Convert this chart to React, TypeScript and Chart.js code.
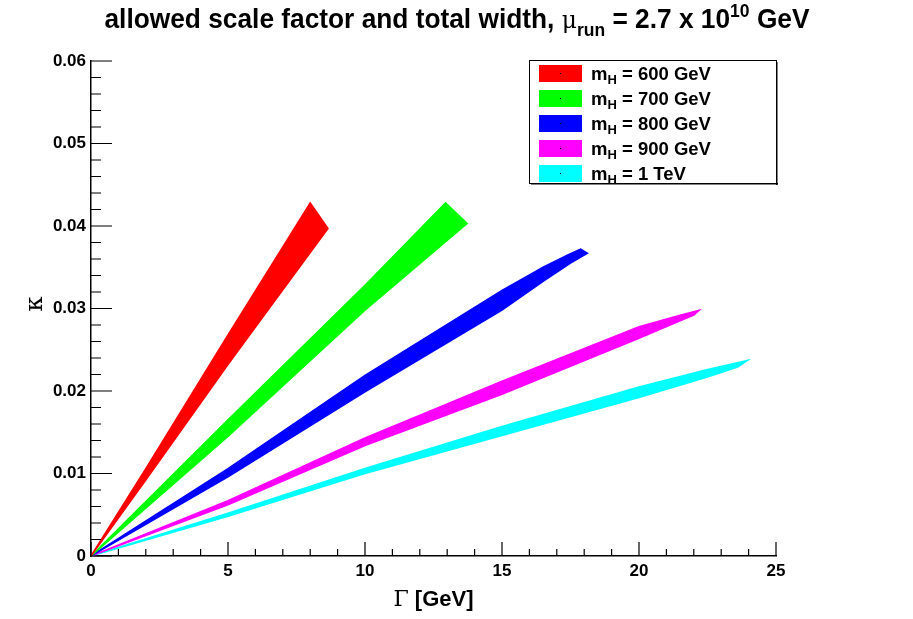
import React, { useEffect, useRef } from "react";
import { Chart, registerables } from "chart.js";

Chart.register(...registerables);

// ---- data ----
const seriesNames = ["600 GeV", "700 GeV", "800 GeV", "900 GeV", "1 TeV"];
const seriesColors = ["#ff0000", "#00ff00", "#0000ff", "#ff00ff", "#00ffff"];

// Each band outline: upper edge from origin to the tip, then lower edge back to origin.
const gamma600 = [0, 2, 5, 6.5, 8.0, 8.65, 6.5, 5, 2, 0];
const kappa600 = [0, 0.0106, 0.0268, 0.0348, 0.0428, 0.0397, 0.0300, 0.0232, 0.0092, 0];

const gamma700 = [0, 5, 10, 12.94, 13.73, 10, 5, 0];
const kappa700 = [0, 0.0165, 0.0328, 0.0428, 0.0403, 0.0298, 0.0145, 0];

const gamma800 = [0, 5, 10, 15, 16.5, 17.4, 17.87, 18.12, 17.5, 16.5, 15, 10, 5, 0];
const kappa800 = [0, 0.0106, 0.0219, 0.0322, 0.0350, 0.0365, 0.0372, 0.0367, 0.0355, 0.0333, 0.0298, 0.0199, 0.0096, 0];

const gamma900 = [0, 5, 10, 15, 20, 21.5, 22.2, 22.0, 21.5, 20, 15, 10, 5, 0];
const kappa900 = [0, 0.0067, 0.0143, 0.0212, 0.0278, 0.0292, 0.0298, 0.0292, 0.0285, 0.0264, 0.0196, 0.0134, 0.0062, 0];

const gamma1000 = [0, 5, 10, 15, 20, 22.5, 23.96, 23.6, 22.5, 20, 15, 10, 5, 0];
const kappa1000 = [0, 0.0052, 0.0106, 0.0157, 0.0205, 0.0226, 0.0237, 0.0229, 0.0217, 0.0192, 0.0146, 0.0100, 0.0048, 0];

const bandGammas = [gamma600, gamma700, gamma800, gamma900, gamma1000];
const bandKappas = [kappa600, kappa700, kappa800, kappa900, kappa1000];

const xTickLabels = ["0", "5", "10", "15", "20", "25"];
const yTickLabels = ["0", "0.01", "0.02", "0.03", "0.04", "0.05", "0.06"];

const SANS = "'Liberation Sans', Arial, Helvetica, sans-serif";
const SERIF = "'DejaVu Serif', 'Liberation Serif', serif";

type Part = { t: string; f: string; dy: number };

function richWidth(ctx: CanvasRenderingContext2D, parts: Part[]) {
  let w = 0;
  for (const p of parts) {
    ctx.font = p.f;
    w += ctx.measureText(p.t).width;
  }
  return w;
}

function drawRich(ctx: CanvasRenderingContext2D, parts: Part[], x: number, y: number, sx = 1) {
  ctx.save();
  ctx.translate(x, y);
  ctx.scale(sx, 1);
  let cx = 0;
  ctx.textAlign = "left";
  ctx.textBaseline = "alphabetic";
  for (const p of parts) {
    ctx.font = p.f;
    ctx.fillText(p.t, cx, p.dy);
    cx += ctx.measureText(p.t).width;
  }
  ctx.restore();
}

const decorPlugin = {
  id: "decor",
  afterDraw(chart: any) {
    const ctx: CanvasRenderingContext2D = chart.ctx;
    const xs = chart.scales.x;
    const ys = chart.scales.y;
    const area = chart.chartArea;
    ctx.save();
    ctx.fillStyle = "#000";
    ctx.strokeStyle = "#000";

    // inward ticks
    ctx.lineWidth = 1.2;
    ctx.beginPath();
    for (let i = 0; i <= 25; i++) {
      const px = xs.getPixelForValue(i);
      const len = i % 5 === 0 ? 14 : 7;
      ctx.moveTo(px, area.bottom);
      ctx.lineTo(px, area.bottom - len);
    }
    for (let i = 0; i <= 30; i++) {
      const py = ys.getPixelForValue(i * 0.002);
      const len = i % 5 === 0 ? 21 : 10;
      ctx.moveTo(area.left, py);
      ctx.lineTo(area.left + len, py);
    }
    ctx.stroke();

    // title
    const titleParts: Part[] = [
      { t: "allowed scale factor and total width, ", f: `bold 27px ${SANS}`, dy: 0 },
      { t: "\u03bc", f: `24px ${SERIF}`, dy: 0 },
      { t: "run", f: `bold 18px ${SANS}`, dy: 8 },
      { t: " = 2.7 x 10", f: `bold 27px ${SANS}`, dy: 0 },
      { t: "10", f: `bold 18px ${SANS}`, dy: -11 },
      { t: " GeV", f: `bold 27px ${SANS}`, dy: 0 },
    ];
    const tw = richWidth(ctx, titleParts);
    const targetW = 705;
    const sx = targetW / tw;
    drawRich(ctx, titleParts, 457 - targetW / 2, 28, sx);

    // x title
    const xParts: Part[] = [
      { t: "\u0393", f: `22px ${SERIF}`, dy: 0 },
      { t: " [GeV]", f: `bold 22px ${SANS}`, dy: 0 },
    ];
    const xw = richWidth(ctx, xParts);
    const xc = (area.left + area.right) / 2;
    drawRich(ctx, xParts, xc - xw / 2, 606);

    // y title (kappa)
    ctx.save();
    ctx.translate(42, 304);
    ctx.rotate(-Math.PI / 2);
    ctx.font = `24px ${SERIF}`;
    ctx.textAlign = "center";
    ctx.textBaseline = "alphabetic";
    ctx.fillText("\u03ba", 0, 0);
    ctx.restore();

    // legend
    const lx = 529, ly = 60, lw = 247, lh = 123;
    ctx.fillStyle = "#fff";
    ctx.fillRect(lx, ly, lw, lh);
    ctx.fillStyle = "#000";
    ctx.fillRect(lx + 2, ly + lh, lw, 1.5);
    ctx.fillRect(lx + lw, ly + 2, 1.5, lh);
    ctx.lineWidth = 1;
    ctx.strokeRect(lx + 0.5, ly + 0.5, lw, lh);
    for (let i = 0; i < seriesNames.length; i++) {
      const cy = 73 + i * 25;
      ctx.fillStyle = seriesColors[i];
      ctx.fillRect(539, cy - 8, 43, 17);
      ctx.fillStyle = "#000";
      ctx.fillRect(560, cy, 1, 1);
      const parts: Part[] = [
        { t: "m", f: `bold 18.5px ${SANS}`, dy: 0 },
        { t: "H", f: `bold 13px ${SANS}`, dy: 4 },
        { t: " = " + seriesNames[i], f: `bold 18.5px ${SANS}`, dy: 0 },
      ];
      drawRich(ctx, parts, 591, cy + 6.5);
    }
    ctx.restore();
  },
};

export default function App() {
  const ref = useRef<HTMLCanvasElement | null>(null);
  useEffect(() => {
    if (!ref.current) return;
    const datasets = bandGammas.map((gs, i) => ({
      label: seriesNames[i],
      data: gs.map((g, j) => ({ x: g, y: bandKappas[i][j] })),
      showLine: true,
      fill: "shape",
      backgroundColor: seriesColors[i],
      borderColor: seriesColors[i],
      borderWidth: 1.5,
      pointRadius: 0,
      tension: 0,
    }));
    const chart = new Chart(ref.current, {
      type: "scatter",
      data: { datasets: datasets as any },
      options: {
        animation: false,
        responsive: false,
        devicePixelRatio: 1,
        layout: { padding: { top: 61, right: 137, bottom: 0, left: 0 } },
        plugins: { legend: { display: false }, tooltip: { enabled: false }, title: { display: false } },
        scales: {
          x: {
            type: "linear",
            min: 0,
            max: 25,
            grid: { display: false, drawTicks: false },
            border: { display: true, color: "#000", width: 1.5 },
            ticks: {
              stepSize: 5,
              autoSkip: false,
              maxRotation: 0,
              padding: 5,
              color: "#000",
              font: { family: SANS, weight: "bold", size: 17 },
              callback: (_v: any, idx: number) => xTickLabels[idx],
            },
            afterFit: (s: any) => {
              s.height = 63;
            },
          },
          y: {
            type: "linear",
            min: 0,
            max: 0.06,
            grid: { display: false, drawTicks: false },
            border: { display: true, color: "#000", width: 1.5 },
            ticks: {
              stepSize: 0.01,
              autoSkip: false,
              padding: 5,
              color: "#000",
              font: { family: SANS, weight: "bold", size: 17 },
              callback: (_v: any, idx: number) => yTickLabels[idx],
            },
            afterFit: (s: any) => {
              s.width = 91;
            },
          },
        },
      } as any,
      plugins: [decorPlugin],
    });
    return () => chart.destroy();
  }, []);
  return (
    <div style={{ position: "fixed", left: 0, top: 0, width: 913, height: 619, background: "#fff" }}>
      <canvas ref={ref} width={913} height={619} style={{ width: 913, height: 619, display: "block" }} />
    </div>
  );
}
